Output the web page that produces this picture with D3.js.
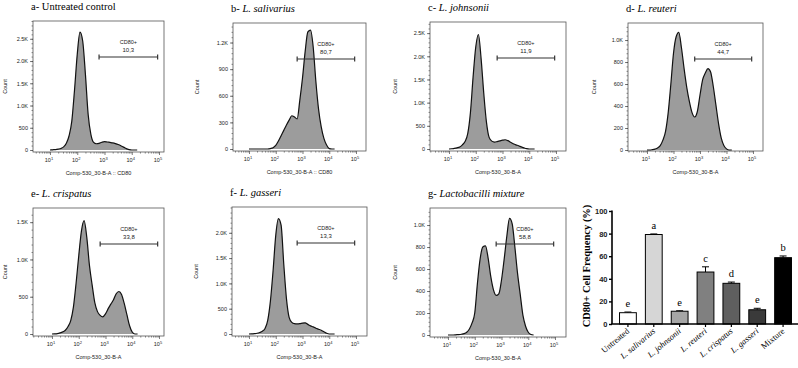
<!DOCTYPE html>
<html>
<head>
<meta charset="utf-8">
<script src="https://cdn.jsdelivr.net/npm/d3@7"></script>
<style>
body { margin: 0; background: #fff; }
svg { display: block; }
text { font-family: "Liberation Sans", Arial, sans-serif; fill: #222; }
.serif { font-family: "Liberation Serif", "Times New Roman", serif; fill: #000; }
</style>
</head>
<body>
<svg id="fig" width="798" height="368"></svg>
<script>
// histogram bins, in log10 of the CD80 channel
const binLog = [1.0, 1.1, 1.2, 1.3, 1.4, 1.5, 1.6, 1.7, 1.8, 1.9, 2.0, 2.1, 2.2, 2.3, 2.4, 2.5,
  2.6, 2.7, 2.8, 2.9, 3.0, 3.1, 3.2, 3.3, 3.4, 3.5, 3.6, 3.7, 3.8, 3.9, 4.0, 4.1, 4.2];

const countsA = [0, 5, 10, 20, 35, 70, 150, 320, 650, 1350, 2150, 2650, 2450, 1700, 800, 350,
  170, 140, 150, 175, 190, 180, 170, 160, 145, 125, 95, 65, 30, 10, 0, 0, 0];
const countsB = [0, 0, 0, 0, 0, 0, 0, 0, 5, 15, 40, 90, 150, 210, 270, 325,
  375, 360, 340, 550, 800, 1100, 1320, 1340, 1150, 760, 450, 250, 120, 45, 5, 0, 0];
const countsC = [0, 5, 12, 25, 45, 90, 160, 330, 780, 1550, 2200, 2470, 1950, 1200, 580, 250,
  170, 150, 160, 175, 190, 200, 180, 145, 115, 90, 70, 45, 25, 8, 0, 0, 0];
const countsD = [0, 0, 3, 8, 18, 40, 90, 170, 340, 600, 880, 1030, 1070, 930, 740, 570,
  440, 340, 300, 350, 500, 640, 700, 740, 710, 580, 410, 240, 110, 40, 10, 0, 0];
const countsE = [0, 2, 6, 15, 28, 50, 100, 180, 360, 680, 1050, 1380, 1520, 1300, 920, 660,
  420, 300, 250, 230, 270, 340, 400, 460, 540, 570, 530, 410, 260, 110, 25, 0, 0];
const countsF = [0, 3, 8, 15, 30, 55, 110, 270, 650, 1250, 1950, 2280, 2150, 1380, 700, 330,
  230, 205, 200, 205, 215, 220, 190, 160, 140, 115, 95, 75, 45, 15, 0, 0, 0];
const countsG = [0, 0, 0, 2, 4, 7, 12, 25, 55, 110, 200, 470, 690, 800, 810, 700,
  530, 410, 360, 375, 500, 690, 900, 1060, 1010, 800, 560, 370, 180, 80, 25, 5, 0];

const panelLetters = ["a-", "b-", "c-", "d-", "e-", "f-", "g-"];
const panelNames = ["Untreated  control", "L. salivarius", "L. johnsonii", "L. reuteri",
  "L. crispatus", "L. gasseri", "Lactobacilli mixture"];
const gatePercent = ["10,3", "80,7", "11,9", "44,7", "33,8", "13,3", "58,8"];
const axisNames = ["Comp-530_30-B-A :: CD80", "Comp-530_30-B-A :: CD80", "Comp-530_30-B-A",
  "Comp-530_30-B-A", "Comp-530_30-B-A", "Comp-530_30-B-A", "Comp-530_30-B-A"];
const countTicks = [
  [0, 500, 1000, 1500, 2000, 2500],
  [0, 300, 600, 900, 1200],
  [0, 500, 1000, 1500, 2000, 2500],
  [0, 200, 400, 600, 800, 1000],
  [0, 500, 1000, 1500],
  [0, 500, 1000, 1500, 2000],
  [0, 200, 400, 600, 800, 1000]
];
const countMax = [2900, 1420, 2740, 1155, 1690, 2510, 1155];
const gateLog = [2.8, 4.95];

// bar chart
const barCategories = ["Untreated", "L. salivarius", "L. johnsonii", "L. reuteri",
  "L. crispatus", "L. gasseri", "Mixture"];
const barMeans = [10, 79.2, 11.3, 46, 36, 12.6, 58.7];
const barErrors = [0.6, 0.5, 0.4, 4.6, 1.1, 1.3, 1.5];
const barLetters = ["e", "a", "e", "c", "d", "e", "b"];
const barColors = ["#ffffff", "#d6d6d6", "#a6a6a6", "#808080", "#5f5f5f", "#3a3a3a", "#000000"];

const svg = d3.select("#fig");

const allCounts = [countsA, countsB, countsC, countsD, countsE, countsF, countsG];

// panel frames in the figure
const frames = [
  { l: 33, r: 164, t: 21, b: 152, zero: 150, x10: 50, x1e5: 159, countX: 5 },
  { l: 233, r: 366, t: 23, b: 151, zero: 149, x10: 249, x1e5: 356, countX: 197 },
  { l: 430, r: 566, t: 22, b: 151, zero: 149, x10: 449, x1e5: 556, countX: 395 },
  { l: 628, r: 763, t: 23, b: 151, zero: 150, x10: 647, x1e5: 753, countX: 594 },
  { l: 33, r: 164, t: 208, b: 336, zero: 334, x10: 52, x1e5: 159, countX: 5 },
  { l: 232, r: 367, t: 207, b: 336, zero: 334, x10: 249, x1e5: 356, countX: 196 },
  { l: 430, r: 566, t: 208, b: 337, zero: 335, x10: 448, x1e5: 555, countX: 395 }
];

const fmtCount = v => v >= 1000 ? (v / 1000).toFixed(1) + "K" : String(v);

frames.forEach((f, i) => {
  const g = svg.append("g");
  const x = d3.scaleLog().domain([10, 1e5]).range([f.x10, f.x1e5]);
  const y = d3.scaleLinear().domain([0, countMax[i]]).range([f.zero, f.t]);
  const data = binLog.map((v, j) => [v, allCounts[i][j]]);

  // title
  const title = g.append("text").attr("class", "serif")
    .attr("x", f.l - 2).attr("y", f.t - 11)
    .style("font-size", "10.5px");
  title.append("tspan").text(panelLetters[i] + " ");
  title.append("tspan").text(panelNames[i])
    .style("font-style", i === 0 ? "normal" : "italic");

  // frame
  g.append("rect")
    .attr("x", f.l).attr("y", f.t)
    .attr("width", f.r - f.l).attr("height", f.b - f.t)
    .attr("fill", "none").attr("stroke", "#555").attr("stroke-width", 0.8);

  // histogram
  const area = d3.area()
    .x(d => x(Math.pow(10, d[0])))
    .y0(f.zero)
    .y1(d => y(d[1]))
    .curve(d3.curveMonotoneX);
  g.append("path").datum(data)
    .attr("d", area)
    .attr("fill", "#9c9c9c");
  g.append("path").datum(data)
    .attr("d", area.lineY1())
    .attr("fill", "none")
    .attr("stroke", "#111")
    .attr("stroke-width", 1.2);

  // y axis
  const ticks = countTicks[i];
  const step = ticks[1] - ticks[0];
  const minor = [];
  for (let v = 0; v <= countMax[i]; v += step / 5) minor.push(v);
  g.append("g").attr("transform", `translate(${f.l},0)`)
    .call(d3.axisLeft(y).tickValues(minor).tickSize(1.5).tickFormat(""))
    .call(a => a.select(".domain").remove())
    .selectAll("line").attr("stroke", "#444").attr("stroke-width", 0.6);
  const ya = g.append("g").attr("transform", `translate(${f.l},0)`)
    .call(d3.axisLeft(y).tickValues(ticks).tickSize(3).tickPadding(2).tickFormat(fmtCount));
  ya.select(".domain").remove();
  ya.selectAll("line").attr("stroke", "#444").attr("stroke-width", 0.7);
  ya.selectAll("text").style("font-size", "5.5px").attr("fill", "#222");

  // x axis
  const xMinor = [];
  [1, 10, 100, 1000, 10000].forEach(dec => {
    for (let k = 2; k <= 9; k++) xMinor.push(k * dec);
  });
  g.append("g").attr("transform", `translate(0,${f.b})`)
    .call(d3.axisBottom(x).tickValues(xMinor.filter(v => x(v) > f.l && x(v) < f.r))
      .tickSize(1.6).tickFormat(""))
    .call(a => a.select(".domain").remove())
    .selectAll("line").attr("stroke", "#444").attr("stroke-width", 0.6);
  const xa = g.append("g").attr("transform", `translate(0,${f.b})`)
    .call(d3.axisBottom(x).tickValues([10, 100, 1000, 10000, 100000]).tickSize(3).tickFormat(""));
  xa.select(".domain").remove();
  xa.selectAll("line").attr("stroke", "#444").attr("stroke-width", 0.7);
  [1, 2, 3, 4, 5].forEach(p => {
    const t = g.append("text")
      .attr("x", x(Math.pow(10, p)) - 1).attr("y", f.b + 10)
      .attr("text-anchor", "middle")
      .style("font-size", "5.5px");
    t.append("tspan").text("10");
    t.append("tspan").text(p).attr("dy", -2.5).style("font-size", "4px");
  });

  // axis titles
  g.append("text")
    .attr("x", (f.l + f.r) / 2).attr("y", f.b + 23)
    .attr("text-anchor", "middle")
    .style("font-size", "5.5px")
    .text(axisNames[i]);
  g.append("text")
    .attr("transform", `translate(${f.countX + 2},${(f.t + f.b) / 2}) rotate(-90)`)
    .attr("text-anchor", "middle")
    .style("font-size", "5.5px")
    .text("Count");

  // CD80+ gate
  const gy = f.t + 36;
  const gx0 = x(Math.pow(10, gateLog[0]));
  const gx1 = x(Math.pow(10, gateLog[1]));
  g.append("line").attr("x1", gx0).attr("x2", gx1).attr("y1", gy).attr("y2", gy)
    .attr("stroke", "#333").attr("stroke-width", 1.2);
  [gx0, gx1].forEach(px => {
    g.append("line").attr("x1", px).attr("x2", px).attr("y1", gy - 2.5).attr("y2", gy + 2.5)
      .attr("stroke", "#333").attr("stroke-width", 1.2);
  });
  g.append("text").attr("x", (gx0 + gx1) / 2).attr("y", f.t + 22.5)
    .attr("text-anchor", "middle").style("font-size", "5.5px").text("CD80+");
  g.append("text").attr("x", (gx0 + gx1) / 2).attr("y", f.t + 30.5)
    .attr("text-anchor", "middle").style("font-size", "6px").text(gatePercent[i]);
});

// ---- bar chart ----
const bc = svg.append("g");
const bx = d3.scaleBand().domain(barCategories)
  .range([615, 796]).paddingInner(0.35).paddingOuter(0.175);
const by = d3.scaleLinear().domain([0, 100]).range([324, 211]);

bc.selectAll(".err")
  .data(barCategories)
  .enter().append("path")
  .attr("class", "err")
  .attr("d", (d, i) => {
    const cx = bx(d) + bx.bandwidth() / 2;
    const yt = by(barMeans[i] + barErrors[i]);
    return `M${cx},${by(barMeans[i])}V${yt}M${cx - 3.5},${yt}H${cx + 3.5}`;
  })
  .attr("fill", "none").attr("stroke", "#000").attr("stroke-width", 1);

bc.selectAll(".bar")
  .data(barCategories)
  .enter().append("rect")
  .attr("class", "bar")
  .attr("x", d => bx(d))
  .attr("y", (d, i) => by(barMeans[i]))
  .attr("width", bx.bandwidth())
  .attr("height", (d, i) => by(0) - by(barMeans[i]))
  .attr("fill", (d, i) => barColors[i])
  .attr("stroke", "#000").attr("stroke-width", 1);

bc.selectAll(".sig")
  .data(barCategories)
  .enter().append("text")
  .attr("class", "serif")
  .attr("x", d => bx(d) + bx.bandwidth() / 2)
  .attr("y", (d, i) => by(barMeans[i] + barErrors[i]) - 5)
  .attr("text-anchor", "middle")
  .style("font-size", "10.5px")
  .text((d, i) => barLetters[i]);

const yAx = bc.append("g").attr("transform", "translate(612,0)")
  .call(d3.axisLeft(by).tickValues([0, 20, 40, 60, 80, 100]).tickSize(3).tickPadding(1.5));
yAx.select(".domain").attr("stroke-width", 1.6).attr("d", "M0,324V210.5");
yAx.selectAll("line").attr("stroke-width", 1.4);
yAx.selectAll("text")
  .style("font-size", "7.5px").style("font-weight", "bold").attr("fill", "#000");

const xAx = bc.append("g").attr("transform", "translate(0,324)")
  .call(d3.axisBottom(bx).tickSize(3).tickFormat(""));
xAx.select(".domain").attr("stroke-width", 1.6).attr("d", "M611.2,0H798");
xAx.selectAll("line").attr("stroke-width", 1.2);

bc.selectAll(".cat")
  .data(barCategories)
  .enter().append("text")
  .attr("class", "serif")
  .attr("transform", d => `translate(${bx(d) + bx.bandwidth() / 2 + 2},${332}) rotate(-40)`)
  .attr("text-anchor", "end")
  .style("font-size", "8.5px")
  .style("font-style", d => d.startsWith("L.") ? "italic" : "normal")
  .text(d => d);

bc.append("text")
  .attr("class", "serif")
  .attr("transform", "translate(590,266) rotate(-90)")
  .attr("text-anchor", "middle")
  .style("font-size", "10.5px")
  .style("font-weight", "bold")
  .text("CD80+ Cell Frequency (%)");
</script>
</body>
</html>
